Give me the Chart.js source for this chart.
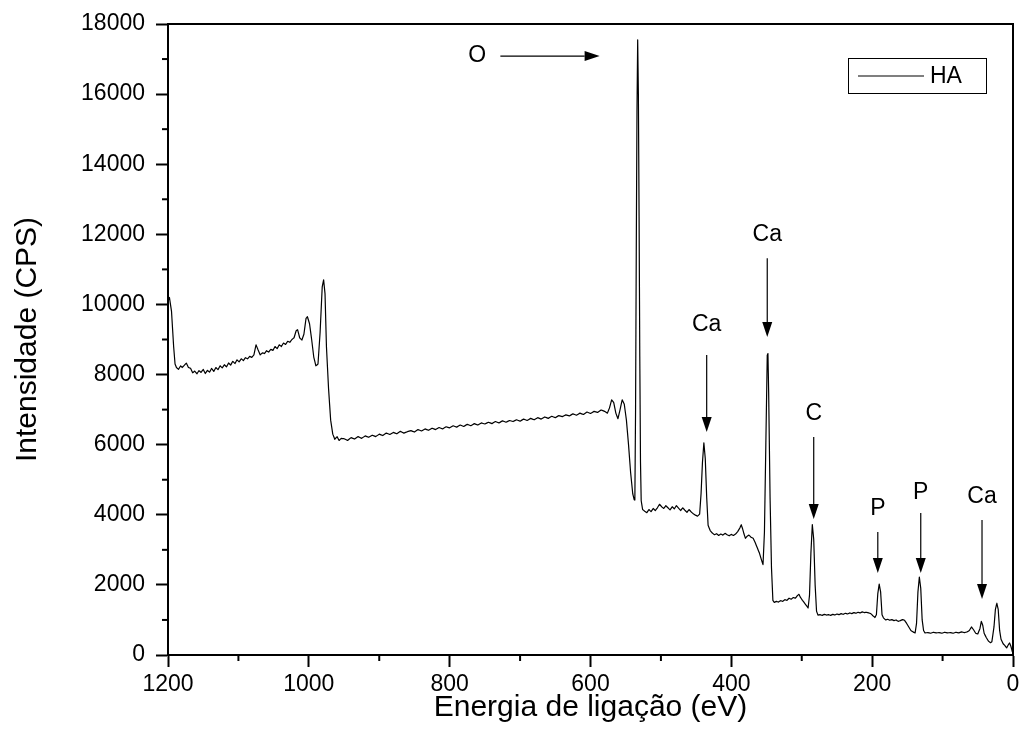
<!DOCTYPE html>
<html>
<head>
<meta charset="utf-8">
<script src="https://cdn.jsdelivr.net/npm/chart.js@4/dist/chart.umd.min.js"></script>
<style>
  html, body { margin: 0; padding: 0; background: #fff; }
  #wrap { width: 1019px; height: 749px; }
</style>
</head>
<body>
<div id="wrap"><canvas id="xps"></canvas></div>
<script>
// binding energy (eV) and intensity (CPS)
const energy = [
  1200, 1198, 1195, 1192, 1190, 1188, 1185, 1182, 1180, 1177, 1174, 1171, 1168, 1165, 1162, 1159, 1156, 1153, 1150,
  1147, 1144, 1141, 1138, 1135, 1132, 1129, 1126, 1123, 1120, 1117, 1114, 1111, 1108, 1105, 1102, 1099, 1096, 1093,
  1090, 1087, 1084, 1081, 1078, 1075, 1072, 1069, 1066, 1063, 1060, 1057, 1054, 1051, 1048, 1045, 1042, 1039, 1036,
  1033, 1030, 1027, 1024, 1021, 1018, 1016, 1013, 1010, 1007, 1004, 1002, 999, 996, 993, 990, 987, 984, 981, 979,
  977, 975, 972, 969, 966, 963, 960, 957, 954,
  950, 945, 940, 935, 930, 925, 920, 915, 910, 905, 900, 895, 890, 885, 880, 875, 870, 865, 860, 855, 850, 845, 840,
  835, 830, 825, 820, 815, 810, 805, 800, 795, 790, 785, 780, 775, 770, 765, 760, 755, 750, 745, 740, 735, 730, 725,
  720, 715, 710, 705, 700, 695, 690, 685, 680, 675, 670, 665, 660, 655, 650, 645, 640, 635, 630, 625, 620, 615, 610,
  605, 600, 595, 590, 585, 580, 576, 573, 570, 567, 564, 561, 558, 555, 552, 549, 546, 543, 540, 538, 537, 536, 535,
  534, 533, 532, 531, 530, 529, 528, 526, 523, 520, 517, 514, 511, 508, 505, 502, 499, 496, 493, 490, 487, 484, 481, 478,
  475, 472, 469, 466, 463, 460, 457, 454, 451, 448, 445, 443, 441, 439, 437, 435, 433, 430, 427, 424, 421, 418, 415,
  412, 409, 406, 403, 400, 397, 394, 391, 388, 386, 384, 382, 380, 378, 375, 372, 369, 366, 363, 360, 357, 355, 353,
  351, 349, 348, 347, 345, 343, 341, 339, 336, 333, 330, 327, 324, 321, 318, 315, 312, 309, 306, 304, 302, 299, 296,
  293, 291, 289, 287, 285, 283, 281, 279, 277, 274, 271, 268, 265, 262, 259, 256, 253, 250, 247, 244, 241, 238, 235,
  232, 229, 226, 223, 220, 217, 214, 211, 208, 205, 202, 199, 196, 194, 192, 190, 188, 186, 184, 181, 178, 175, 172,
  169, 166, 163, 160, 157, 154, 151, 148, 145, 142, 139, 137, 135, 133, 131, 129, 127, 125, 121, 117, 113, 109, 105,
  101, 97, 93, 89, 85, 81, 77, 73, 69, 65, 62, 59, 56, 53, 50, 47, 45, 43, 41, 38, 35, 32, 30, 27, 25, 23, 21, 19,
  17, 14, 12, 9, 7, 5, 3, 1, 0
];
const counts = [
  10100, 10200, 9800, 8800, 8300, 8200, 8150, 8250, 8200, 8260, 8330, 8200, 8180, 8050, 8100, 8020, 8110, 8060, 8150,
  8030, 8120, 8070, 8180, 8090, 8200, 8140, 8250, 8190, 8280, 8220, 8330, 8270, 8380, 8310, 8420, 8360, 8450, 8400,
  8480, 8450, 8520, 8490, 8560, 8850, 8700, 8560, 8620, 8600, 8680, 8640, 8720, 8690, 8800, 8740, 8850, 8800, 8900,
  8860, 8950, 8920, 9000, 9050, 9250, 9280, 9050, 8980, 9150, 9600, 9650, 9450, 9000, 8500, 8250, 8300, 9200, 10500, 10700,
  10300, 8800, 7600, 6700, 6300, 6150, 6230, 6120, 6180,
  6170, 6120, 6200, 6160, 6230, 6180, 6250, 6210, 6270, 6230, 6300, 6260, 6330, 6290, 6350, 6310, 6380, 6330, 6370, 6400, 6360, 6430, 6390,
  6450, 6410, 6470, 6430, 6490, 6450, 6510, 6480, 6540, 6500, 6560, 6520, 6580, 6540, 6600, 6560, 6620, 6590, 6640, 6600, 6660, 6620, 6680,
  6640, 6690, 6660, 6710, 6670, 6730, 6690, 6750, 6710, 6770, 6730, 6790, 6750, 6810, 6770, 6830, 6800, 6850, 6820, 6880, 6840, 6900, 6860,
  6930, 6890, 6950, 6920, 6990, 6950, 6900, 7050, 7280, 7200, 6900, 6740, 7000, 7280, 7150, 6700, 6000, 5200, 4600, 4430, 4420, 7000, 11500,
  15500, 17550, 16000, 12500, 8500, 5500, 4400, 4150, 4100, 4060, 4150, 4090, 4180, 4120, 4200, 4300, 4230, 4180, 4260, 4200, 4140, 4230, 4170, 4260,
  4190, 4120, 4200, 4130, 4070, 4150, 4080, 4030, 3990, 3960, 4020, 4600, 5500, 6050, 5600, 4500, 3700, 3550, 3480, 3430, 3460, 3410, 3450,
  3420, 3470, 3430, 3400, 3440, 3410, 3450, 3520, 3620, 3720, 3600, 3450, 3330, 3380, 3420, 3360, 3330, 3200, 3050, 2900, 2700, 2580, 3500,
  6000, 8550, 8600, 7500, 4500, 2500, 1560, 1500, 1530, 1510, 1550, 1530, 1580, 1560, 1620, 1590, 1640, 1620, 1700, 1730, 1650, 1560, 1480,
  1400, 1340, 1700, 2900, 3720, 3300, 2000, 1250, 1140, 1150, 1130, 1160, 1140, 1150, 1130, 1160, 1140, 1170, 1150, 1180, 1160, 1190, 1170,
  1200, 1180, 1210, 1190, 1220, 1200, 1230, 1210, 1220, 1200, 1180, 1120, 1070, 1150, 1750, 2020, 1800, 1150, 1060, 1000, 1020, 990, 1010,
  980, 1000, 960, 980, 1010, 990, 900, 800, 700, 660, 630, 900, 1800, 2220, 1900, 1000, 700, 630, 640, 620, 650, 630, 640,
  620, 650, 630, 640, 620, 650, 630, 660, 640, 660, 700, 800, 720, 620, 600, 750, 960, 850, 620, 500, 400, 350, 380, 800, 1300, 1480, 1300, 700,
  450, 320, 280, 200, 280, 350, 250, 100, 80
];

// axis ticks
const xMajor = [1200, 1000, 800, 600, 400, 200, 0];
const xMinor = [1100, 900, 700, 500, 300, 100];
const yMajor = [0, 2000, 4000, 6000, 8000, 10000, 12000, 14000, 16000, 18000];
const yMinor = [1000, 3000, 5000, 7000, 9000, 11000, 13000, 15000, 17000];

// peak annotations: label position and arrow start/end, in data units
const peakLabels = ['O', 'Ca', 'Ca', 'C', 'P', 'P', 'Ca'];
const labelEnergy = [761, 349, 435, 283, 192, 131, 44];
const labelCounts = [17085, 11980, 9412, 6874, 4164, 4621, 4506];
const arrowFromE = [728, 349, 435, 283, 192, 131, 44];
const arrowFromC = [17085, 11320, 8560, 6220, 3510, 4050, 3850];
const arrowToE = [587, 349, 435, 283, 192, 131, 44];
const arrowToC = [17085, 9070, 6360, 3880, 2340, 2340, 1600];

const FONT = "'Liberation Sans', Arial, sans-serif";

const points = energy.map((e, i) => ({ x: e, y: counts[i] }));

function arrow(ctx, x1, y1, x2, y2) {
  const ang = Math.atan2(y2 - y1, x2 - x1);
  const len = 15, half = 5;
  const bx = x2 - len * Math.cos(ang), by = y2 - len * Math.sin(ang);
  ctx.beginPath();
  ctx.moveTo(x1, y1);
  ctx.lineTo(bx, by);
  ctx.stroke();
  ctx.beginPath();
  ctx.moveTo(x2, y2);
  ctx.lineTo(bx + half * Math.sin(ang), by - half * Math.cos(ang));
  ctx.lineTo(bx - half * Math.sin(ang), by + half * Math.cos(ang));
  ctx.closePath();
  ctx.fill();
}

const extras = {
  id: 'extras',
  afterDraw(chart) {
    const { ctx, chartArea: a } = chart;
    const xs = chart.scales.x, ys = chart.scales.y;
    ctx.save();
    ctx.strokeStyle = '#000';
    ctx.fillStyle = '#000';

    // top and right frame
    ctx.lineWidth = 2;
    ctx.beginPath();
    ctx.moveTo(a.left, a.top);
    ctx.lineTo(a.right, a.top);
    ctx.lineTo(a.right, a.bottom);
    ctx.stroke();

    // minor ticks
    ctx.lineWidth = 2;
    xMinor.forEach(v => {
      const px = xs.getPixelForValue(v);
      ctx.beginPath();
      ctx.moveTo(px, a.bottom);
      ctx.lineTo(px, a.bottom + 6);
      ctx.stroke();
    });
    yMinor.forEach(v => {
      const py = ys.getPixelForValue(v);
      ctx.beginPath();
      ctx.moveTo(a.left, py);
      ctx.lineTo(a.left - 6, py);
      ctx.stroke();
    });

    // peak labels and arrows
    ctx.font = '23px ' + FONT;
    ctx.textAlign = 'center';
    ctx.textBaseline = 'middle';
    ctx.lineWidth = 1.2;
    peakLabels.forEach((t, i) => {
      ctx.fillText(t, xs.getPixelForValue(labelEnergy[i]), ys.getPixelForValue(labelCounts[i]));
      arrow(ctx,
        xs.getPixelForValue(arrowFromE[i]), ys.getPixelForValue(arrowFromC[i]),
        xs.getPixelForValue(arrowToE[i]), ys.getPixelForValue(arrowToC[i]));
    });

    // legend box
    const lx = a.right - 165, ly = a.top + 34;
    ctx.lineWidth = 1;
    ctx.strokeRect(lx + 0.5, ly + 0.5, 138, 35);
    ctx.lineWidth = 1.2;
    ctx.beginPath();
    ctx.moveTo(lx + 10, ly + 18);
    ctx.lineTo(lx + 76, ly + 18);
    ctx.stroke();
    ctx.textAlign = 'left';
    ctx.fillText(chart.data.datasets[0].label, lx + 82, ly + 19);
    ctx.restore();
  }
};

new Chart(document.getElementById('xps').getContext('2d'), {
  type: 'line',
  data: {
    datasets: [{
      label: 'HA',
      data: points,
      borderColor: '#000',
      borderWidth: 1.2,
      borderJoinStyle: 'round',
      pointRadius: 0,
      tension: 0.001, // small non-zero tension keeps every point (no fast-path min/max merging)
      fill: false
    }]
  },
  options: {
    responsive: true,
    maintainAspectRatio: false,
    animation: false,
    layout: { padding: { left: 10, top: 24, right: 6, bottom: 18 } },
    plugins: {
      legend: { display: false },
      tooltip: { enabled: false }
    },
    scales: {
      x: {
        type: 'linear',
        reverse: true,
        min: 0,
        max: 1200,
        afterFit: s => { s.height = 76; s.paddingLeft = 0; s.paddingRight = 0; },
        afterBuildTicks: s => { s.ticks = xMajor.map(v => ({ value: v })); },
        ticks: {
          color: '#000', font: { family: FONT, size: 23 }, padding: 4, maxRotation: 0, autoSkip: false,
          callback: v => String(v)
        },
        grid: { drawOnChartArea: false, drawTicks: true, tickLength: 12, tickColor: '#000', tickWidth: 2 },
        border: { display: true, color: '#000', width: 2 },
        title: {
          display: true,
          text: 'Energia de ligação (eV)',
          color: '#000',
          font: { family: FONT, size: 30 },
          padding: { top: 0, bottom: 5 }
        }
      },
      y: {
        min: 0,
        max: 18000,
        afterFit: s => { s.width = 158; s.paddingTop = 0; s.paddingBottom = 0; },
        afterBuildTicks: s => { s.ticks = yMajor.map(v => ({ value: v })); },
        ticks: {
          color: '#000', font: { family: FONT, size: 23 }, padding: 11,
          callback: v => String(v)
        },
        grid: { drawOnChartArea: false, drawTicks: true, tickLength: 12, tickColor: '#000', tickWidth: 2 },
        border: { display: true, color: '#000', width: 2 },
        title: {
          display: true,
          text: 'Intensidade (CPS)',
          color: '#000',
          font: { family: FONT, size: 30 },
          padding: { top: 0, bottom: 0 }
        }
      }
    }
  },
  plugins: [extras]
});
</script>
</body>
</html>
